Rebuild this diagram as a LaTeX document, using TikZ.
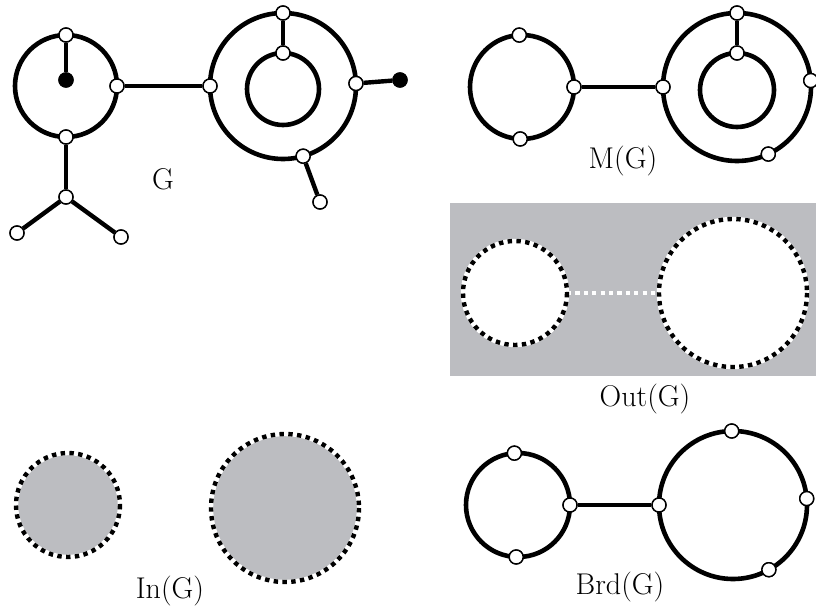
\documentclass[tikz,border=0pt]{standalone}
\usetikzlibrary{calc}
\definecolor{greyfill}{RGB}{188,189,193}
\begin{document}
\begin{tikzpicture}[x=1pt,y=-1pt,
  ring/.style={line width=4.6pt},
  edge/.style={line width=4.4pt},
  vtx/.style={circle,draw,fill=white,line width=1.4pt,inner sep=0pt,minimum size=14pt},
  bvtx/.style={circle,draw,fill=black,line width=1.4pt,inner sep=0pt,minimum size=14pt},
  dotring/.style={line width=4.4pt,black,dash pattern=on 4.4pt off 4.4pt},
  whiteline/.style={line width=4.4pt,white},
  lbl/.style={font=\fontsize{30}{34}\selectfont,inner sep=0pt}]
\useasboundingbox (0,0) rectangle (816,610);

% ---------- G ----------
\coordinate (gl) at (66,86);
\coordinate (gr) at (283,86);
\coordinate (gri) at (283,89);
\draw[ring] (gl) circle (51);
\draw[ring] (gr) circle (73);
\draw[ring] (gri) circle (36);
\node[vtx] (g1) at ($(gl)+(-90:51)$) {};
\node[bvtx] (g2) at (66,80) {};
\node[vtx] (g3) at ($(gl)+(0:51)$) {};
\node[vtx] (g4) at ($(gl)+(90:51)$) {};
\node[vtx] (g5) at (66,197) {};
\node[vtx] (g6) at (17,233) {};
\node[vtx] (g7) at (121,237) {};
\node[vtx] (g8) at ($(gr)+(180:73)$) {};
\node[vtx] (g9) at ($(gr)+(-90:73)$) {};
\node[vtx] (g10) at ($(gri)+(-90:36)$) {};
\node[vtx] (g11) at ($(gr)+(-2:73)$) {};
\node[bvtx] (g12) at (400,80) {};
\node[vtx] (g13) at ($(gr)+(74:73)$) {};
\node[vtx] (g14) at (320,202) {};
\draw[edge] (g1) -- (g2);
\draw[edge] (g3) -- (g8);
\draw[edge] (g4) -- (g5);
\draw[edge] (g5) -- (g6);
\draw[edge] (g5) -- (g7);
\draw[edge] (g9) -- (g10);
\draw[edge] (g11) -- (g12);
\draw[edge] (g13) -- (g14);
\foreach \n in {g1,g3,g4,g5,g6,g7,g8,g9,g10,g11,g13,g14} \node[vtx] at (\n) {};
\foreach \n in {g2,g12} \node[bvtx] at (\n) {};
\node[lbl] (gtxt) at (163,179) {G};

% ---------- M(G) ----------
\coordinate (ml) at (522,87);
\coordinate (mr) at (737,87);
\coordinate (mri) at (737,90);
\draw[ring] (ml) circle (52);
\draw[ring] (mr) circle (74);
\draw[ring] (mri) circle (37);
\node[vtx] (m1) at ($(ml)+(-93:52)$) {};
\node[vtx] (m2) at ($(ml)+(92:52)$) {};
\node[vtx] (m3) at ($(ml)+(0:52)$) {};
\node[vtx] (m4) at ($(mr)+(180:74)$) {};
\node[vtx] (m5) at ($(mr)+(-90:74)$) {};
\node[vtx] (m6) at ($(mri)+(-90:37)$) {};
\node[vtx] (m7) at ($(mr)+(-5:74)$) {};
\node[vtx] (m8) at ($(mr)+(65:74)$) {};
\draw[edge] (m3) -- (m4);
\draw[edge] (m5) -- (m6);
\foreach \n in {m1,m2,m3,m4,m5,m6,m7,m8} \node[vtx] at (\n) {};
\node[lbl] (mtxt) at (623,161) {M(G)};

% ---------- Out(G) ----------
\fill[greyfill] (450,203) rectangle (816,376);
\coordinate (ol) at (515,293);
\coordinate (or) at (733,293);
\fill[white] (ol) circle (52);
\fill[white] (or) circle (74);
\coordinate (o1) at ($(ol)+(0:52)$);
\coordinate (o2) at ($(or)+(180:74)$);
\draw[line width=4pt,white,dash pattern=on 4.2pt off 4.2pt] (o1) -- (o2);
\draw[whiteline] (ol) circle (52);
\draw[whiteline] (or) circle (74);
\draw[dotring] (ol) circle (52);
\draw[dotring] (or) circle (74);
\node[lbl] (otxt) at (645,399) {Out(G)};

% ---------- In(G) ----------
\coordinate (il) at (68,505);
\coordinate (ir) at (285,508);
\fill[greyfill] (il) circle (52);
\fill[greyfill] (ir) circle (74);
\draw[whiteline] (il) circle (52);
\draw[whiteline] (ir) circle (74);
\draw[dotring] (il) circle (52);
\draw[dotring] (ir) circle (74);
\node[lbl] (itxt) at (170,591) {In(G)};

% ---------- Brd(G) ----------
\coordinate (bl) at (518,505);
\coordinate (br) at (733,505);
\draw[ring] (bl) circle (52);
\draw[ring] (br) circle (74);
\node[vtx] (b1) at ($(bl)+(-94:52)$) {};
\node[vtx] (b2) at ($(bl)+(92:52)$) {};
\node[vtx] (b3) at ($(bl)+(0:52)$) {};
\node[vtx] (b4) at ($(br)+(180:74)$) {};
\node[vtx] (b5) at ($(br)+(-91:74)$) {};
\node[vtx] (b6) at ($(br)+(-5:74)$) {};
\node[vtx] (b7) at ($(br)+(61:74)$) {};
\draw[edge] (b3) -- (b4);
\foreach \n in {b1,b2,b3,b4,b5,b6,b7} \node[vtx] at (\n) {};
\node[lbl] (btxt) at (620,587) {Brd(G)};
\end{tikzpicture}
\end{document}
